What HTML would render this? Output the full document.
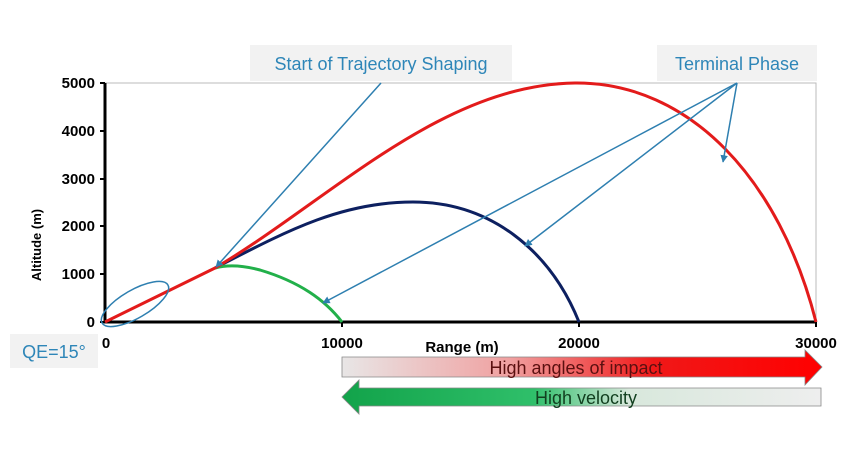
<!DOCTYPE html>
<html><head><meta charset="utf-8"><style>
html,body{margin:0;padding:0;background:#fff;}
svg{display:block;}
</style></head><body>
<svg width="850" height="456" viewBox="0 0 850 456" xmlns="http://www.w3.org/2000/svg" font-family="Liberation Sans, sans-serif">
<defs>
<linearGradient id="gr" x1="0" x2="1" y1="0" y2="0">
<stop offset="0" stop-color="#e8e6e6"/><stop offset="0.35" stop-color="#f0a0a0"/><stop offset="0.65" stop-color="#f01818"/><stop offset="1" stop-color="#ff0000"/></linearGradient>
<linearGradient id="gg" x1="0" x2="1" y1="0" y2="0">
<stop offset="0" stop-color="#12a34a"/><stop offset="0.4" stop-color="#2fbf6a"/><stop offset="0.6" stop-color="#d8e8dc"/><stop offset="1" stop-color="#eeeeee"/></linearGradient>
<marker id="ah" viewBox="0 0 10 10" refX="9" refY="5" markerWidth="5" markerHeight="5" orient="auto"><path d="M0,0L10,5L0,10z" fill="#2e7fb0"/></marker>
</defs>
<rect x="250" y="45" width="262" height="36" fill="#f2f2f2"/>
<text x="381" y="70" text-anchor="middle" font-size="18" fill="#2e86b8">Start of Trajectory Shaping</text>
<rect x="657" y="45" width="160" height="36" fill="#f2f2f2"/>
<text x="737" y="70" text-anchor="middle" font-size="18" fill="#2e86b8">Terminal Phase</text>
<rect x="10" y="334" width="88" height="34" fill="#f2f2f2"/>
<text x="54" y="358" text-anchor="middle" font-size="18" fill="#2e86b8">QE=15°</text>
<path d="M105,83H816V322" fill="none" stroke="#bbb" stroke-width="1"/>
<path d="M105,83V322H816" fill="none" stroke="#000" stroke-width="3"/>
<g stroke="#000" stroke-width="2"><line x1="100" y1="83" x2="105" y2="83"/><line x1="100" y1="131" x2="105" y2="131"/><line x1="100" y1="179" x2="105" y2="179"/><line x1="100" y1="226" x2="105" y2="226"/><line x1="100" y1="274" x2="105" y2="274"/><line x1="100" y1="322" x2="105" y2="322"/><line x1="342" y1="322" x2="342" y2="327"/><line x1="579" y1="322" x2="579" y2="327"/><line x1="816" y1="322" x2="816" y2="327"/></g>
<g font-size="15" font-weight="bold" text-anchor="end" fill="#000">
<text x="95" y="88">5000</text><text x="95" y="136">4000</text><text x="95" y="184">3000</text><text x="95" y="231">2000</text><text x="95" y="279">1000</text><text x="95" y="327">0</text></g>
<g font-size="15" font-weight="bold" text-anchor="middle" fill="#000">
<text x="106" y="348">0</text><text x="342" y="348">10000</text><text x="579" y="348">20000</text><text x="816" y="348">30000</text><text x="462" y="352">Range (m)</text></g>
<text transform="translate(41,245) rotate(-90)" font-size="13" font-weight="bold" text-anchor="middle">Altitude (m)</text>
<path d="M215,268 C285,232 340,202 413,202 C490,202 550,250 579,322" fill="none" stroke="#0d2060" stroke-width="3"/>
<path d="M215,268 C230,264 245,266 260,270 C300,282 325,300 342,322" fill="none" stroke="#22b04a" stroke-width="3"/>
<path d="M105,322 L215,268 C330,200 440,85 575,83 C690,82 780,180 816,322" fill="none" stroke="#e31b1b" stroke-width="3"/>
<ellipse cx="135" cy="304" rx="38" ry="14" transform="rotate(-30 135 304)" fill="none" stroke="#2e7fb0" stroke-width="1.5"/>
<g stroke="#2e7fb0" stroke-width="1.5" marker-end="url(#ah)">
<line x1="381" y1="83" x2="216" y2="267"/>
<line x1="737" y1="83" x2="723" y2="162"/>
<line x1="737" y1="83" x2="525" y2="246"/>
<line x1="737" y1="83" x2="323" y2="303"/>
</g>
<path d="M342,357H805V350L822,367L805,385V377H342Z" fill="url(#gr)" stroke="#888" stroke-width="0.8"/>
<text x="576" y="374" text-anchor="middle" font-size="18" fill="#5a1010">High angles of impact</text>
<path d="M821,388V406H359V414L342,397L359,380V388Z" fill="url(#gg)" stroke="#888" stroke-width="0.8"/>
<text x="586" y="404" text-anchor="middle" font-size="18" fill="#124020">High velocity</text>
</svg>
</body></html>
